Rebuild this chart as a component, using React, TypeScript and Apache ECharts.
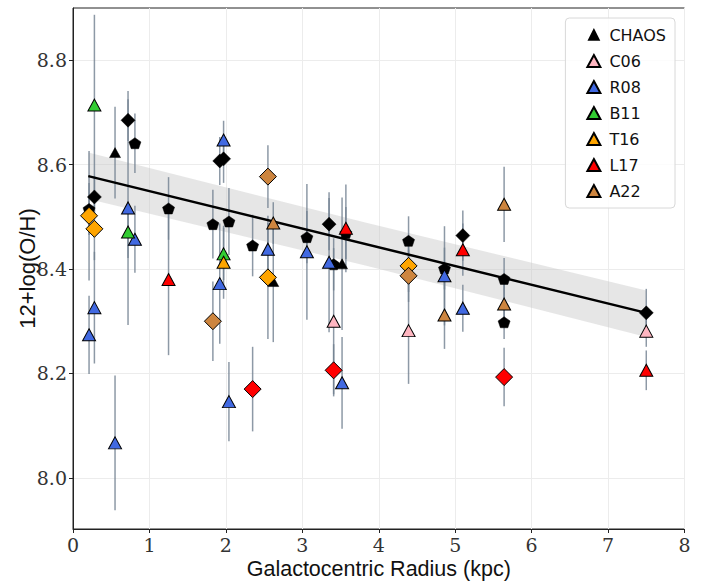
import React, { useEffect, useRef } from "react";
import * as echarts from "echarts";

// [radius (kpc), 12+log(O/H), error, shape]  shape: t=triangle d=diamond p=pentagon
const CHAOS: [number, number, number, string][] = [
  [0.21, 8.515, 0.05, "p"],
  [0.28, 8.538, 0.04, "d"],
  [0.55, 8.623, 0.088, "t"],
  [0.72, 8.685, 0.04, "d"],
  [0.81, 8.641, 0.057, "p"],
  [1.25, 8.516, 0.06, "p"],
  [1.83, 8.486, 0.066, "p"],
  [1.92, 8.607, 0.046, "d"],
  [1.97, 8.611, 0.046, "d"],
  [2.04, 8.491, 0.064, "p"],
  [2.35, 8.445, 0.059, "p"],
  [2.62, 8.376, 0.116, "t"],
  [3.06, 8.461, 0.05, "p"],
  [3.35, 8.486, 0.05, "d"],
  [3.41, 8.409, 0.05, "p"],
  [3.52, 8.41, 0.127, "t"],
  [3.57, 8.469, 0.05, "p"],
  [4.39, 8.454, 0.047, "p"],
  [4.86, 8.401, 0.04, "p"],
  [5.1, 8.464, 0.048, "d"],
  [5.64, 8.381, 0.04, "p"],
  [5.64, 8.298, 0.032, "p"],
  [7.5, 8.316, 0.046, "d"],
];
const C06: [number, number, number, string][] = [
  [3.41, 8.3, 0.14, "t"],
  [4.39, 8.282, 0.102, "t"],
  [7.5, 8.281, 0.03, "t"],
];
const R08: [number, number, number, string][] = [
  [0.21, 8.274, 0.075, "t"],
  [0.28, 8.326, 0.107, "t"],
  [0.55, 8.067, 0.129, "t"],
  [0.72, 8.517, 0.224, "t"],
  [0.81, 8.457, 0.064, "t"],
  [1.92, 8.372, 0.115, "t"],
  [1.97, 8.647, 0.037, "t"],
  [2.04, 8.146, 0.076, "t"],
  [2.55, 8.438, 0.05, "t"],
  [3.06, 8.433, 0.13, "t"],
  [3.35, 8.413, 0.134, "t"],
  [3.52, 8.182, 0.088, "t"],
  [4.86, 8.387, 0.095, "t"],
  [5.1, 8.325, 0.045, "t"],
];
const B11: [number, number, number, string][] = [
  [0.28, 8.714, 0.173, "t"],
  [0.72, 8.471, 0.05, "t"],
  [1.97, 8.429, 0.05, "t"],
];
const T16: [number, number, number, string][] = [
  [0.21, 8.502, 0.124, "d"],
  [0.28, 8.477, 0.06, "d"],
  [1.97, 8.413, 0.07, "t"],
  [2.55, 8.384, 0.118, "d"],
  [4.39, 8.406, 0.05, "d"],
];
const L17: [number, number, number, string][] = [
  [1.25, 8.38, 0.145, "t"],
  [2.35, 8.17, 0.081, "d"],
  [3.41, 8.206, 0.05, "d"],
  [3.57, 8.478, 0.084, "t"],
  [5.1, 8.437, 0.05, "t"],
  [5.64, 8.193, 0.056, "d"],
  [7.5, 8.206, 0.038, "t"],
];
const A22: [number, number, number, string][] = [
  [1.83, 8.3, 0.076, "d"],
  [2.55, 8.577, 0.06, "d"],
  [2.62, 8.488, 0.04, "t"],
  [4.39, 8.387, 0.05, "d"],
  [4.86, 8.312, 0.065, "t"],
  [5.64, 8.524, 0.072, "t"],
  [5.64, 8.333, 0.04, "t"],
];

const SURVEYS = ["CHAOS", "C06", "R08", "B11", "T16", "L17", "A22"];
const SURVEY_DATA = [CHAOS, C06, R08, B11, T16, L17, A22];
const SURVEY_COLORS = ["#000000", "#FFB6C1", "#4169E1", "#32CD32", "#FFA500", "#FF0000", "#CD853F"];

// regression fit and its confidence band
const fitX = [0.2, 7.5];
const fitY = [8.578, 8.316];
const bandX = [0.2, 3.85, 7.5];
const bandUpper = [8.623, 8.488, 8.359];
const bandLower = [8.534, 8.406, 8.27];

const yTicks = [8.0, 8.2, 8.4, 8.6, 8.8];

const PENTAGON = "path://M0,-1 L0.951,-0.309 L0.588,0.809 L-0.588,0.809 L-0.951,-0.309 Z";
const SMALL_TRIANGLE = "path://M-1.3,-1.25 M1.3,1.25 M0,-1 L1,1 L-1,1 Z";

function symbolFor(shape: string, chaos: boolean) {
  if (shape === "t") return { symbol: "triangle", symbolSize: chaos ? [11, 10] : [13, 12] };
  if (shape === "d") return { symbol: "diamond", symbolSize: chaos ? [14, 14] : [17, 17] };
  return { symbol: PENTAGON, symbolSize: [12, 11] };
}

export default function App() {
  const ref = useRef<HTMLDivElement>(null);
  useEffect(() => {
    if (!ref.current) return;
    const chart = echarts.init(ref.current, null, { renderer: "svg" });

    const errData: number[][] = [];
    SURVEY_DATA.forEach((arr) => arr.forEach((p) => errData.push([p[0], p[1], p[2]])));

    const sans = "DejaVu Sans";
    const titleFont = "Liberation Sans";
    const tickFont = "DejaVu Serif";

    const scatterSeries = SURVEYS.map((name, i) => ({
      name,
      type: "scatter",
      z: 5,
      itemStyle: {
        color: SURVEY_COLORS[i],
        borderColor: "#000",
        borderWidth: i === 0 ? 0.5 : 1,
        opacity: 1,
      },
      data: SURVEY_DATA[i].map((p) => ({
        value: [p[0], p[1]],
        ...symbolFor(p[3], i === 0),
      })),
    }));

    const option: any = {
      animation: false,
      backgroundColor: "#fff",
      grid: {
        left: 73,
        right: 18.5,
        top: 8,
        bottom: 54,
        show: true,
        borderColor: "#222",
        borderWidth: 1,
        backgroundColor: "transparent",
      },
      legend: {
        orient: "vertical",
        right: 28,
        top: 18,
        itemWidth: 13,
        itemHeight: 12,
        itemGap: 10,
        padding: [9, 9, 9, 21],
        borderColor: "#d8d8d8",
        borderWidth: 1,
        borderRadius: 4,
        backgroundColor: "rgba(255,255,255,0.85)",
        textStyle: { fontFamily: sans, fontSize: 16, color: "#111", padding: [0, 0, 0, 4] },
        data: SURVEYS.map((n, i) => ({ name: n, icon: i === 0 ? SMALL_TRIANGLE : "triangle" })),
      },
      xAxis: {
        type: "value",
        min: 0,
        max: 8,
        interval: 1,
        name: "Galactocentric Radius (kpc)",
        nameLocation: "middle",
        nameGap: 29,
        nameMoveOverlap: false,
        nameTextStyle: { fontFamily: titleFont, fontSize: 21.5, color: "#111" },
        axisLine: { show: true, lineStyle: { color: "#222", width: 1 } },
        axisTick: { show: true, length: 4, lineStyle: { color: "#222" } },
        axisLabel: {
          fontFamily: tickFont,
          fontSize: 19,
          color: "#333",
          margin: 6,
        },
        splitLine: { show: true, lineStyle: { color: "#ececec", width: 1 } },
      },
      yAxis: {
        type: "value",
        min: 7.902,
        max: 8.9,
        name: "12+log(O/H)",
        nameLocation: "middle",
        nameGap: 35,
        nameMoveOverlap: false,
        nameTextStyle: { fontFamily: titleFont, fontSize: 22, color: "#111" },
        axisLine: { show: true, lineStyle: { color: "#222", width: 1 } },
        axisTick: { show: true, length: 4, lineStyle: { color: "#222" }, customValues: yTicks },
        axisLabel: {
          fontFamily: tickFont,
          fontSize: 19,
          color: "#333",
          margin: 6,
          customValues: yTicks,
          formatter: (v: number) => v.toFixed(1),
        },
        splitLine: { show: true, lineStyle: { color: "#ececec", width: 1 } },
      },
      series: [
        {
          type: "custom",
          name: "band",
          z: 1,
          silent: true,
          data: [0],
          renderItem: (params: any, api: any) => {
            const pts: number[][] = [];
            for (let i = 0; i < bandX.length; i++) pts.push(api.coord([bandX[i], bandUpper[i]]));
            for (let i = bandX.length - 1; i >= 0; i--) pts.push(api.coord([bandX[i], bandLower[i]]));
            return {
              type: "polygon",
              shape: { points: pts },
              style: { fill: "rgba(200,200,200,0.45)", stroke: "none" },
            };
          },
        },
        {
          type: "custom",
          name: "errors",
          z: 2,
          silent: true,
          encode: { x: 0, y: 1 },
          data: errData,
          renderItem: (params: any, api: any) => {
            const x = api.value(0);
            const y = api.value(1);
            const e = api.value(2);
            const a = api.coord([x, y + e]);
            const b = api.coord([x, y - e]);
            return {
              type: "line",
              shape: { x1: a[0], y1: a[1], x2: b[0], y2: b[1] },
              style: { stroke: "rgba(112,128,144,0.8)", lineWidth: 1.5 },
            };
          },
        },
        {
          type: "line",
          name: "fit",
          z: 3,
          silent: true,
          symbol: "none",
          lineStyle: { color: "#000", width: 2.5 },
          data: fitX.map((x, i) => [x, fitY[i]]),
        },
        ...scatterSeries,
      ],
    };
    chart.setOption(option);
    return () => chart.dispose();
  }, []);
  return (
    <div
      ref={ref}
      style={{ position: "fixed", left: 0, top: 0, width: 703, height: 585 }}
    />
  );
}
